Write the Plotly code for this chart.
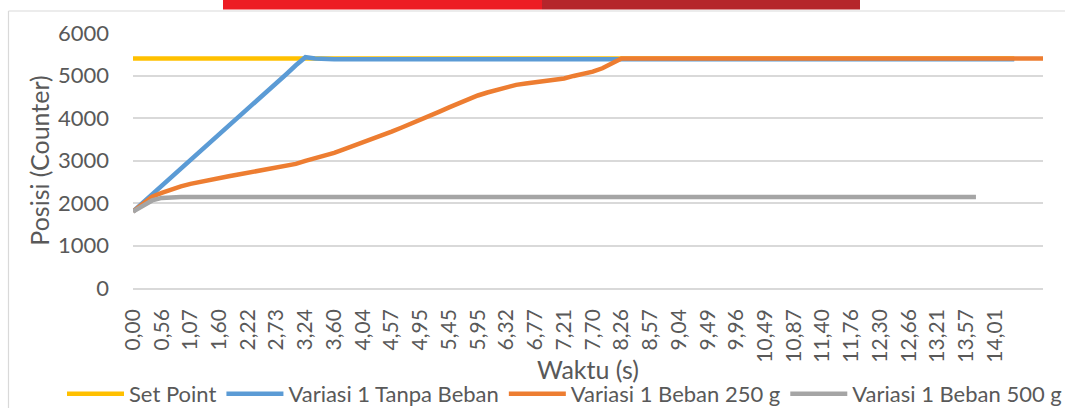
import plotly.graph_objects as go

# ---- data ----
waktu_labels = ["0,00", "0,56", "1,07", "1,60", "2,22", "2,73", "3,24", "3,60", "4,04", "4,57",
                "4,95", "5,45", "5,95", "6,32", "6,77", "7,21", "7,70", "8,26", "8,57", "9,04",
                "9,49", "9,96", "10,49", "10,87", "11,40", "11,76", "12,30", "12,66", "13,21", "13,57",
                "14,01"]

set_point = [
    5400, 5400, 5400, 5400, 5400, 5400, 5400, 5400, 5400, 5400,
    5400, 5400, 5400, 5400, 5400, 5400, 5400, 5400, 5400, 5400,
    5400, 5400, 5400, 5400, 5400, 5400, 5400, 5400, 5400, 5400,
    5400, 5400, 5400, 5400, 5400, 5400, 5400, 5400, 5400, 5400,
    5400, 5400, 5400, 5400, 5400, 5400, 5400, 5400, 5400, 5400,
    5400, 5400, 5400, 5400, 5400, 5400, 5400, 5400, 5400, 5400,
    5400, 5400, 5400, 5400, 5400, 5400, 5400, 5400, 5400, 5400,
    5400, 5400, 5400, 5400, 5400, 5400, 5400, 5400, 5400, 5400,
    5400, 5400, 5400, 5400, 5400, 5400, 5400, 5400, 5400, 5400,
    5400, 5400, 5400,
]

tanpa_beban = [
    1800, 2000, 2200, 2400, 2610, 2810, 3010, 3220, 3420, 3620,
    3820, 4020, 4230, 4430, 4630, 4830, 5030, 5240, 5430, 5400,
    5385, 5385, 5385, 5385, 5385, 5385, 5385, 5385, 5385, 5385,
    5385, 5385, 5385, 5385, 5385, 5385, 5385, 5385, 5385, 5385,
    5385, 5385, 5385, 5385, 5385, 5385, 5385, 5385, 5385, 5385,
    5385, 5385, 5385, 5385, 5385, 5385, 5385, 5385, 5385, 5385,
    5385, 5385, 5385, 5385, 5385, 5385, 5385, 5385, 5385, 5385,
    5385, 5385, 5385, 5385, 5385, 5385, 5385, 5385, 5385, 5385,
    5385, 5385, 5385, 5385, 5385, 5385, 5385, 5385, 5385, 5385,
    5385, 5385, 5385,
]

beban_250 = [
    1800, 1980, 2150, 2240, 2320, 2390, 2450, 2500, 2540, 2590,
    2630, 2670, 2710, 2750, 2790, 2820, 2860, 2920, 2990, 3050,
    3110, 3180, 3260, 3340, 3420, 3510, 3590, 3680, 3770, 3860,
    3950, 4050, 4150, 4250, 4350, 4440, 4530, 4600, 4660, 4730,
    4780, 4810, 4840, 4870, 4900, 4930, 4990, 5040, 5090, 5170,
    5280, 5400, 5400, 5400, 5400, 5400, 5400, 5400, 5400, 5400,
    5400, 5400, 5400, 5400, 5400, 5400, 5400, 5400, 5400, 5400,
    5400, 5400, 5400, 5400, 5400, 5400, 5400, 5400, 5400, 5400,
    5400, 5400, 5400, 5400, 5400, 5400, 5400, 5400, 5400, 5400,
    5400, 5400, 5400, 5400, 5400, 5400,
]

beban_500 = [
    1800, 1930, 2060, 2120, 2140, 2140, 2140, 2140, 2140, 2140,
    2140, 2140, 2140, 2140, 2140, 2140, 2140, 2140, 2140, 2140,
    2140, 2140, 2140, 2140, 2140, 2140, 2140, 2140, 2140, 2140,
    2140, 2140, 2140, 2140, 2140, 2140, 2140, 2140, 2140, 2140,
    2140, 2140, 2140, 2140, 2140, 2140, 2140, 2140, 2140, 2140,
    2140, 2140, 2140, 2140, 2140, 2140, 2140, 2140, 2140, 2140,
    2140, 2140, 2140, 2140, 2140, 2140, 2140, 2140, 2140, 2140,
    2140, 2140, 2140, 2140, 2140, 2140, 2140, 2140, 2140, 2140,
    2140, 2140, 2140, 2140, 2140, 2140, 2140, 2140, 2140,
]

series_names = ["Set Point", "Variasi 1 Tanpa Beban", "Variasi 1 Beban 250 g", "Variasi 1 Beban 500 g"]
series_values = [set_point, tanpa_beban, beban_250, beban_500]
series_colors = ["#FFC000", "#5B9BD5", "#ED7D31", "#A5A5A5"]

label_step = 3
FONT = "Lato, 'Open Sans', sans-serif"
TXT = "#595959"
GRID = "#D9D9D9"

fig = go.Figure()
for name, vals, col in zip(series_names, series_values, series_colors):
    fig.add_trace(go.Scatter(
        x=list(range(len(vals))), y=vals, name=name, mode="lines",
        line=dict(color=col, width=4.5),
    ))

n_cat = max(len(v) for v in series_values)

W, H = 1065, 408
L, R, T, B = 133, 22, 33, 120
pw, ph = W - L - R, H - T - B

def px(x):
    return (x - L) / pw

def py(y):
    return (H - B - y) / ph

fig.update_layout(
    width=W, height=H,
    margin=dict(l=L, r=R, t=T, b=B, pad=0, autoexpand=False),
    paper_bgcolor="white", plot_bgcolor="white",
    font=dict(family=FONT, color=TXT, size=21),
    showlegend=True,
    legend=dict(orientation="h", x=px(62), xanchor="left", y=py(394), yanchor="middle",
                font=dict(size=22, color=TXT), itemwidth=57, tracegroupgap=0,
                bgcolor="rgba(0,0,0,0)"),
    xaxis=dict(
        range=[0, n_cat - 1],
        tickmode="array",
        tickvals=[i * label_step for i in range(len(waktu_labels))],
        ticktext=waktu_labels,
        tickangle=-90,
        tickfont=dict(size=21, color=TXT),
        ticklabelstandoff=11,
        automargin=False,
        showgrid=False, zeroline=False,
        showline=True, linecolor=GRID, linewidth=1.5,
        ticks="",
        title=dict(text="Waktu (s)", font=dict(size=25, color=TXT), standoff=0),
    ),
    yaxis=dict(
        range=[0, 6000], dtick=1000, tick0=0,
        tickfont=dict(size=22, color=TXT),
        showgrid=True, gridcolor=GRID, gridwidth=1.5,
        zeroline=False, showline=False, ticks="",
        ticklabelstandoff=23,
        automargin=False,
        title=dict(text="Posisi (Counter)", font=dict(size=25, color=TXT), standoff=1),
    ),
    shapes=[
        dict(type="rect", xref="paper", yref="paper", x0=px(223), x1=px(542), y0=py(9.6), y1=py(-2),
             fillcolor="#ED1C24", line=dict(width=0), layer="above"),
        dict(type="rect", xref="paper", yref="paper", x0=px(542), x1=px(860), y0=py(9.6), y1=py(-2),
             fillcolor="#B5252B", line=dict(width=0), layer="above"),
        dict(type="line", xref="paper", yref="paper", x0=px(8.5), x1=px(1070), y0=py(11), y1=py(11),
             line=dict(color=GRID, width=1.2)),
        dict(type="line", xref="paper", yref="paper", x0=px(8.5), x1=px(8.5), y0=py(11), y1=py(412),
             line=dict(color=GRID, width=1.2)),
    ],
)

# the page's default 8px body margin would shift the figure; remove it
fig.write_html("out.html",
               config={"displayModeBar": False},
               post_script="document.body.style.margin='0';document.body.style.overflow='hidden';")
